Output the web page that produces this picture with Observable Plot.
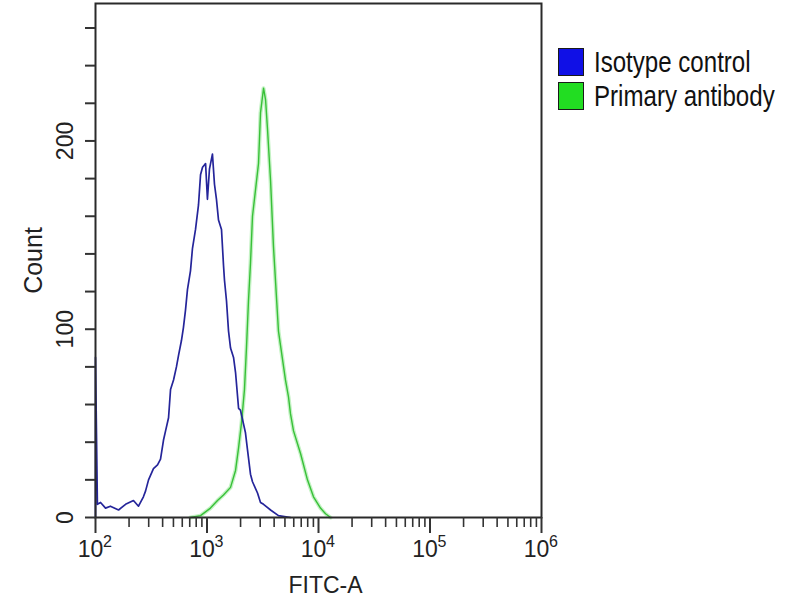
<!DOCTYPE html>
<html>
<head>
<meta charset="utf-8">
<script src="https://cdn.jsdelivr.net/npm/d3@7"></script>
<script src="https://cdn.jsdelivr.net/npm/@observablehq/plot@0.6"></script>
<style>
  html, body { margin: 0; padding: 0; background: #fff; }
  #wrap { position: relative; width: 800px; height: 600px; overflow: hidden; }
  #legend { position: absolute; left: 558px; top: 46px; font-family: "Liberation Sans", Arial, sans-serif; font-size: 28px; color: #111; white-space: nowrap; }
  .item { display: flex; align-items: center; height: 32px; margin-bottom: 2px; }
  .sw { width: 26px; height: 28px; border: 1.5px solid #1a1a1a; margin-right: 10px; box-sizing: border-box; flex: none; }
  .lbl { display: inline-block; transform: scale(0.86, 1.06); transform-origin: left center; line-height: 28px; }
</style>
</head>
<body>
<div id="wrap">
  <div id="chart"></div>
  <div id="legend"></div>
</div>
<script>
// Series names and colours
const seriesNames = ["Isotype control", "Primary antibody"];
const seriesColors = ["#1010e6", "#22dd22"];

// Isotype control histogram (FITC-A value, count)
const isoX = [100, 100, 104, 111, 123, 136, 161, 186, 219, 243, 269, 281, 299, 331, 360, 383, 407, 425, 452, 471, 501, 532, 555, 590, 615, 641, 668, 711, 741, 789, 839, 875, 912, 971, 1009, 1052, 1119, 1167, 1216, 1268, 1349, 1406, 1435, 1496, 1560, 1626, 1730, 1803, 1919, 1995, 2213, 2307, 2455, 2559, 2838, 3020, 3214, 3715, 4375, 5610];
const isoCount = [0, 85, 7, 8, 5, 6, 4, 7, 9, 6, 11, 14, 20, 26, 28, 31, 41, 46, 53, 68, 73, 80, 86, 94, 101, 110, 121, 131, 143, 153, 166, 182, 186, 188, 169, 185, 193, 177, 169, 158, 153, 134, 126, 115, 99, 90, 85, 77, 58, 57, 45, 36, 23, 19, 13, 8, 7, 4, 1, 0];

// Primary antibody histogram (FITC-A value, count)
const priX = [711, 875, 1074, 1242, 1406, 1626, 1803, 1919, 2037, 2168, 2259, 2355, 2455, 2559, 2723, 2897, 3020, 3214, 3350, 3491, 3715, 3945, 4375, 5058, 5383, 5610, 5970, 6900, 7962, 9015, 10420, 11560, 12820];
const priCount = [0, 1, 5, 9, 12, 16, 25, 37, 50, 68, 90, 115, 135, 160, 174, 188, 215, 228, 222, 206, 179, 144, 99, 73, 64, 55, 46, 34, 20, 11, 5, 2, 0];

// Axis ticks
const yTicks = [0, 20, 40, 60, 80, 100, 120, 140, 160, 180, 200, 220, 240, 260];
const yLabelled = [0, 100, 200];
const xMajor = [1e2, 1e3, 1e4, 1e5, 1e6];
const xMajorBase = ["10", "10", "10", "10", "10"];
const xMajorExp = ["2", "3", "4", "5", "6"];
const xMinor = [2, 3, 4, 5, 6, 7, 8, 9].flatMap(m => [1e2, 1e3, 1e4, 1e5].map(p => m * p));

const iso = isoX.map((x, i) => ({x, y: isoCount[i]}));
const pri = priX.map((x, i) => ({x, y: priCount[i]}));

const font = '"Liberation Sans", Arial, sans-serif';

const chart = Plot.plot({
  width: 800,
  height: 600,
  marginLeft: 95,
  marginRight: 259,
  marginTop: 3,
  marginBottom: 83,
  style: {fontFamily: font, background: "#fff", color: "#222"},
  x: {type: "log", domain: [1e2, 1e6]},
  y: {domain: [0, 273]},
  marks: [
    Plot.line(pri, {x: "x", y: "y", stroke: "#c4f2c4", strokeWidth: 4}),
    Plot.line(pri, {x: "x", y: "y", stroke: "#38c038", strokeWidth: 1.4}),
    Plot.line(iso, {x: "x", y: "y", stroke: "#25259a", strokeWidth: 1.7}),
    Plot.frame({stroke: "#2a2a2a", strokeWidth: 2}),
    Plot.axisY(yTicks, {tickSize: 10, strokeWidth: 2, stroke: "#333", tickFormat: () => "", label: null}),
    Plot.text(yLabelled, {y: d => d, text: d => String(d), frameAnchor: "left", textAnchor: "middle", lineAnchor: "middle", dx: -30, rotate: -90, fontSize: 23, fill: "#222"}),
    Plot.axisX(xMinor, {tickSize: 10, strokeWidth: 1.6, stroke: "#333", tickFormat: () => "", label: null}),
    Plot.axisX(xMajor, {tickSize: 16, strokeWidth: 2, stroke: "#333", tickFormat: () => "", label: null}),
    Plot.text(xMajor, {x: d => d, text: (d, i) => xMajorBase[i], frameAnchor: "bottom", dx: -5, dy: 39, fontSize: 23, fill: "#222"}),
    Plot.text(xMajor, {x: d => d, text: (d, i) => xMajorExp[i], frameAnchor: "bottom", dx: 12, dy: 29, fontSize: 16, fill: "#222"}),
    Plot.text(["Count"], {frameAnchor: "left", textAnchor: "middle", dx: -62, rotate: -90, fontSize: 25, fill: "#222"}),
    Plot.text(["FITC-A"], {frameAnchor: "bottom", dx: 7, dy: 75, fontSize: 23, fill: "#222"})
  ]
});
document.getElementById("chart").appendChild(chart);

const legend = document.getElementById("legend");
seriesNames.forEach((name, i) => {
  const item = document.createElement("div");
  item.className = "item";
  const sw = document.createElement("div");
  sw.className = "sw";
  sw.style.background = seriesColors[i];
  const label = document.createElement("span");
  label.className = "lbl";
  label.textContent = name;
  item.appendChild(sw);
  item.appendChild(label);
  legend.appendChild(item);
});
</script>
</body>
</html>
